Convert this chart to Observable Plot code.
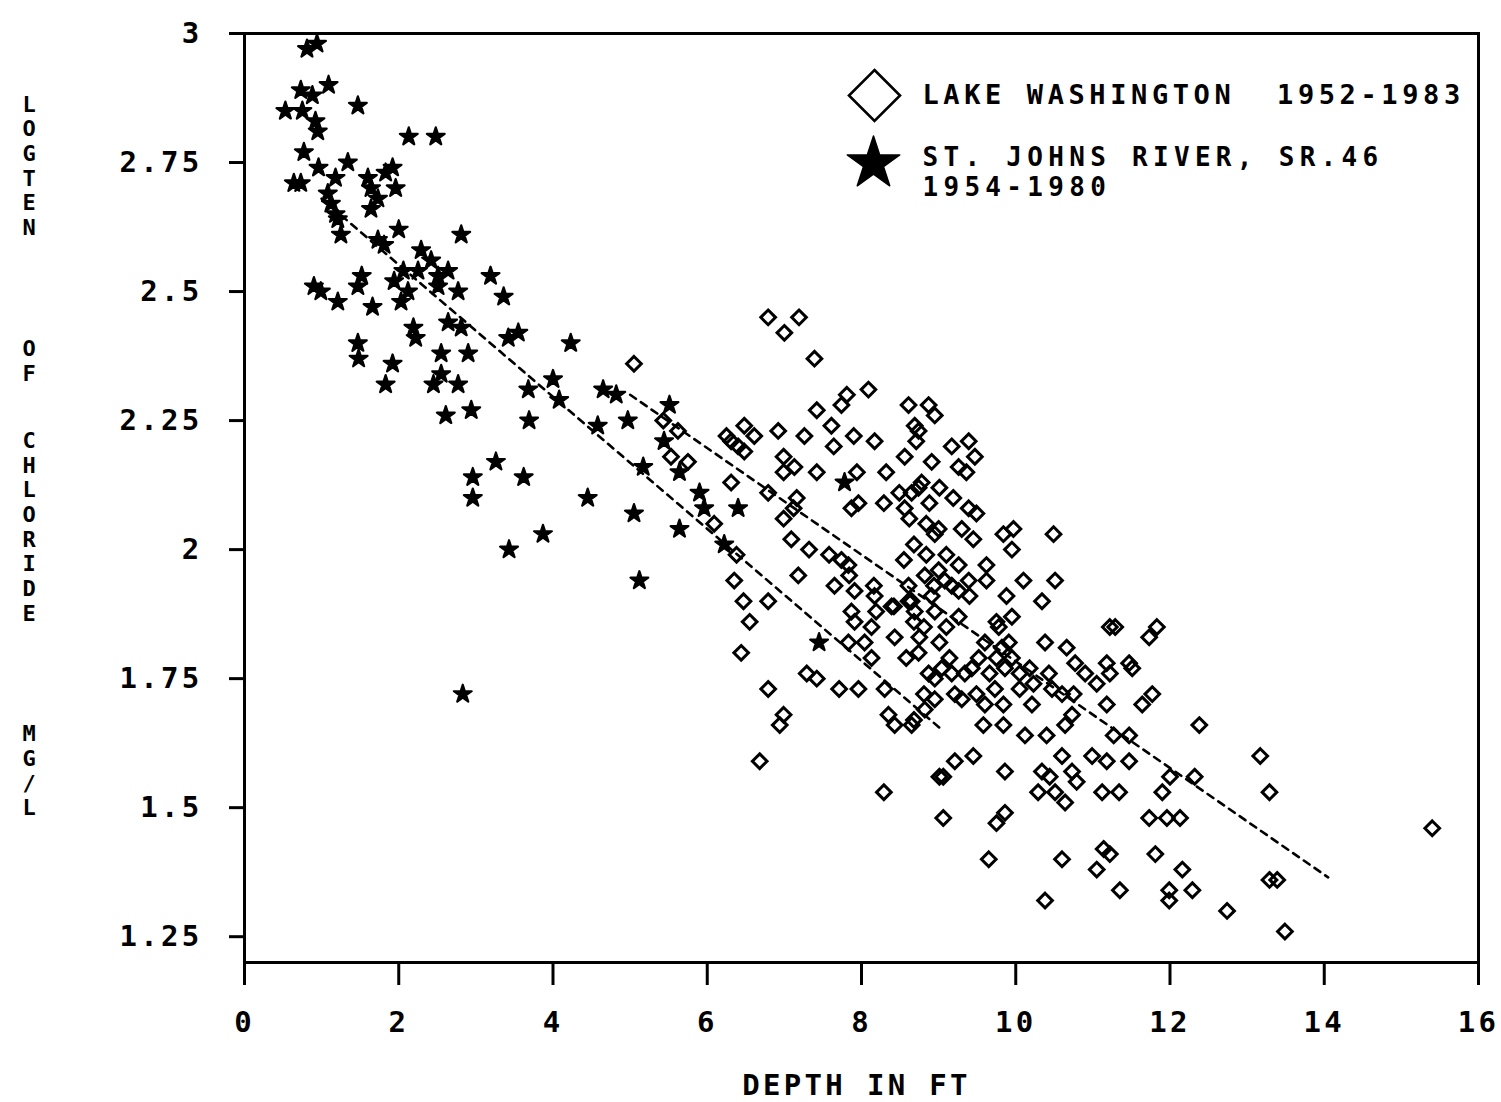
<!DOCTYPE html>
<html><head><meta charset="utf-8">
<script src="https://cdn.jsdelivr.net/npm/d3@7"></script>
<script src="https://cdn.jsdelivr.net/npm/@observablehq/plot@0.6"></script>
<style>
html,body{margin:0;padding:0;background:#fff;overflow:hidden}
svg text{white-space:pre}
</style>
</head><body><div id="chart"></div>
<script>
// St. Johns River, SR.46 (1954-1980): [depth ft, log10 chloride]
const riverPoints = [
[0.94,2.98],[0.81,2.97],[1.09,2.90],[0.73,2.89],[0.88,2.88],[1.47,2.86],[0.53,2.85],[0.75,2.85],
[0.92,2.83],[0.95,2.81],[2.13,2.80],[2.48,2.80],[0.77,2.77],[0.96,2.74],[1.34,2.75],[0.64,2.71],
[0.73,2.71],[1.18,2.72],[1.92,2.74],[1.83,2.73],[1.60,2.72],[1.64,2.70],[1.96,2.70],[1.08,2.69],
[1.12,2.67],[1.73,2.68],[1.64,2.66],[1.18,2.65],[1.21,2.64],[1.25,2.61],[1.73,2.60],[1.81,2.59],
[2.00,2.62],[2.81,2.61],[2.29,2.58],[2.42,2.56],[2.06,2.54],[2.25,2.54],[2.64,2.54],[1.94,2.52],
[2.12,2.50],[2.03,2.48],[2.51,2.53],[2.51,2.51],[2.77,2.50],[3.19,2.53],[3.36,2.49],[0.90,2.51],
[0.99,2.50],[1.21,2.48],[1.66,2.47],[1.47,2.51],[1.52,2.53],[2.19,2.43],[2.64,2.44],[2.81,2.43],
[3.55,2.42],[3.42,2.41],[1.47,2.40],[1.48,2.37],[2.55,2.38],[2.90,2.38],[2.22,2.41],[4.23,2.40],
[1.92,2.36],[1.83,2.32],[2.55,2.34],[2.45,2.32],[2.77,2.32],[2.61,2.26],[2.94,2.27],[3.68,2.31],
[4.00,2.33],[4.08,2.29],[3.69,2.25],[4.65,2.31],[4.82,2.30],[4.58,2.24],[4.97,2.25],[5.51,2.28],
[5.44,2.21],[5.17,2.16],[5.64,2.15],[5.90,2.11],[5.96,2.08],[5.05,2.07],[5.64,2.04],[6.22,2.01],
[6.40,2.08],[7.78,2.13],[5.12,1.94],[3.26,2.17],[2.96,2.14],[2.96,2.10],[3.62,2.14],[4.45,2.10],
[3.87,2.03],[3.43,2.00],[2.83,1.72],[7.45,1.82]
];
// Lake Washington (1952-1983): [depth ft, log10 chloride]
const lakePoints = [
[5.05,2.36],[6.79,2.45],[7.19,2.45],[7.00,2.42],[7.39,2.37],[5.43,2.25],[5.62,2.23],[5.53,2.18],
[5.75,2.17],[6.25,2.22],[6.48,2.24],[6.61,2.22],[6.31,2.21],[6.40,2.20],[6.48,2.19],[6.92,2.23],
[7.26,2.22],[7.61,2.24],[7.64,2.20],[7.42,2.27],[7.81,2.30],[7.74,2.28],[8.09,2.31],[7.90,2.22],
[8.17,2.21],[6.99,2.18],[7.13,2.16],[6.99,2.15],[7.42,2.15],[6.31,2.13],[6.79,2.11],[7.16,2.10],
[7.12,2.08],[6.99,2.06],[6.09,2.05],[7.94,2.15],[8.32,2.15],[8.56,2.18],[8.61,2.28],[8.69,2.24],
[8.71,2.21],[7.96,2.09],[7.87,2.08],[8.29,2.09],[8.49,2.11],[8.56,2.08],[8.65,2.11],[8.62,2.06],
[7.09,2.02],[7.32,2.00],[7.58,1.99],[7.74,1.98],[7.83,1.97],[7.65,1.93],[7.84,1.95],[7.91,1.92],
[8.16,1.93],[8.17,1.91],[8.39,1.89],[8.61,1.90],[8.55,1.98],[8.68,2.01],[7.18,1.95],[6.35,1.94],
[6.47,1.90],[6.79,1.90],[6.38,1.99],[8.87,2.28],[8.95,2.26],[8.74,2.23],[9.17,2.20],[9.39,2.21],
[9.47,2.18],[8.91,2.17],[9.26,2.16],[9.36,2.15],[8.78,2.13],[8.74,2.12],[9.01,2.12],[9.19,2.10],
[8.88,2.09],[9.39,2.08],[9.49,2.07],[8.84,2.05],[8.95,2.03],[9.00,2.04],[9.30,2.04],[9.45,2.02],
[9.84,2.03],[9.97,2.04],[9.95,2.00],[10.49,2.03],[8.84,1.99],[9.10,1.99],[9.26,1.97],[9.62,1.97],
[9.00,1.96],[8.82,1.95],[9.08,1.94],[9.39,1.94],[9.62,1.94],[8.94,1.93],[9.17,1.93],[9.26,1.92],
[10.10,1.94],[10.51,1.94],[9.40,1.91],[9.88,1.91],[10.34,1.90],[8.61,1.93],[8.65,1.90],[8.91,1.91],
[8.42,1.89],[7.87,1.88],[8.19,1.88],[8.69,1.88],[8.95,1.88],[9.10,1.85],[9.26,1.87],[7.91,1.86],
[8.13,1.85],[8.68,1.86],[8.81,1.85],[9.95,1.87],[9.75,1.86],[9.78,1.85],[8.04,1.82],[8.43,1.83],
[8.75,1.83],[9.01,1.82],[8.58,1.79],[8.13,1.79],[9.14,1.79],[9.52,1.79],[9.60,1.82],[9.82,1.81],
[9.91,1.82],[9.75,1.79],[9.95,1.79],[10.38,1.82],[10.66,1.81],[11.22,1.85],[11.29,1.85],[11.73,1.83],
[10.77,1.78],[10.90,1.76],[11.18,1.78],[11.47,1.78],[11.05,1.74],[11.22,1.76],[10.43,1.76],[10.18,1.77],
[10.23,1.74],[10.47,1.73],[10.60,1.72],[10.75,1.72],[10.73,1.68],[10.64,1.66],[11.18,1.70],[11.64,1.70],
[10.40,1.64],[10.12,1.64],[9.84,1.66],[10.21,1.70],[9.84,1.70],[9.60,1.70],[9.73,1.73],[10.05,1.73],
[9.66,1.76],[9.86,1.77],[10.05,1.76],[9.58,1.66],[9.30,1.71],[9.49,1.72],[9.21,1.72],[8.95,1.71],
[8.81,1.72],[9.34,1.76],[9.43,1.77],[9.17,1.76],[8.87,1.76],[8.95,1.75],[9.04,1.77],[8.30,1.73],
[7.96,1.73],[8.35,1.68],[8.43,1.66],[8.68,1.67],[8.82,1.69],[9.45,1.60],[9.21,1.59],[9.01,1.56],
[9.86,1.57],[10.34,1.57],[10.60,1.60],[10.73,1.57],[10.99,1.60],[11.18,1.59],[11.27,1.64],[11.47,1.64],
[11.47,1.59],[6.55,1.86],[6.44,1.80],[7.29,1.76],[7.42,1.75],[6.79,1.73],[7.71,1.73],[6.99,1.68],
[6.94,1.66],[6.68,1.59],[8.29,1.53],[9.06,1.56],[9.06,1.48],[8.74,1.80],[8.65,1.66],[7.83,1.82],
[11.83,1.85],[11.51,1.77],[11.77,1.72],[12.38,1.66],[13.17,1.60],[10.79,1.55],[12.00,1.56],[11.90,1.53],
[12.32,1.56],[13.29,1.53],[11.12,1.53],[11.34,1.53],[10.64,1.51],[10.51,1.53],[11.73,1.48],[11.96,1.48],
[12.13,1.48],[15.40,1.46],[11.22,1.41],[11.14,1.42],[11.81,1.41],[10.60,1.40],[11.05,1.38],[12.16,1.38],
[13.29,1.36],[13.39,1.36],[11.35,1.34],[11.99,1.34],[12.29,1.34],[11.99,1.32],[12.74,1.30],[13.49,1.26],
[10.38,1.32],[9.65,1.40],[9.86,1.49],[9.75,1.47],[10.29,1.53],[10.44,1.56]
];
// fitted trend lines (end points)
const riverFit = [[1.0,2.68],[9.05,1.65]];
const lakeFit = [[5.0,2.30],[14.05,1.365]];

const xTicks = [0,2,4,6,8,10,12,14,16];
const xTickLabels = ["0","2","4","6","8","10","12","14","16"];
const yTicks = [1.25,1.5,1.75,2,2.25,2.5,2.75,3];
const yTickLabels = ["1.25","1.5","1.75","2","2.25","2.5","2.75","3"];
const xTitle = ["DEPTH IN FT"];
const yTitleWords = ["LOGTEN","OF","CHLORIDE","MG/L"];
const yTitleCenters = [165,360,526,770];
const legendLake = ["LAKE WASHINGTON  1952-1983"];
const legendRiver = ["ST. JOHNS RIVER, SR.46\n1954-1980"];

const FONT = "'DejaVu Sans Mono', monospace";
const chart = Plot.plot({
  width: 1501,
  height: 1102,
  marginLeft: 244,
  marginRight: 23,
  marginTop: 33,
  marginBottom: 140,
  style: {fontFamily: FONT, fontSize: "29px", fontWeight: "bold", letterSpacing: "3.3px", background: "#fff", color: "#000"},
  x: {domain: [0,16]},
  y: {domain: [1.2,3]},
  marks: [
    Plot.frame({stroke: "#000", strokeWidth: 3}),
    Plot.axisX(xTicks, {tickSize: 23, tickPadding: 26, strokeWidth: 3, label: null,
      tickFormat: d => xTickLabels[xTicks.indexOf(d)]}),
    Plot.axisY(yTicks, {tickSize: 15, tickPadding: 27, strokeWidth: 3, label: null,
      tickFormat: d => yTickLabels[yTicks.indexOf(d)]}),
    Plot.line(riverFit, {x: d => d[0], y: d => d[1], stroke: "#000", strokeWidth: 2.6, strokeDasharray: "7,6"}),
    Plot.line(lakeFit, {x: d => d[0], y: d => d[1], stroke: "#000", strokeWidth: 2.6, strokeDasharray: "7,6"}),
    Plot.dot(lakePoints, {x: d => d[0], y: d => d[1], symbol: "diamond2", r: 6.6, fill: "none", stroke: "#000", strokeWidth: 3}),
    Plot.dot(riverPoints, {x: d => d[0], y: d => d[1], symbol: "star", r: 5.6, fill: "#000", stroke: "#000", strokeWidth: 2.2, strokeLinejoin: "round"}),
    // legend
    Plot.dot([0], {frameAnchor: "top-left", dx: 630, dy: 62, symbol: "diamond2", r: 23, fill: "none", stroke: "#000", strokeWidth: 2.6}),
    Plot.dot([0], {frameAnchor: "top-left", dx: 629, dy: 130, symbol: "star", r: 16.5, fill: "#000", stroke: "#000", strokeWidth: 1.5, strokeLinejoin: "round"}),
    Plot.text(legendLake, {frameAnchor: "top-left", dx: 678, dy: 62, text: d => d, textAnchor: "start", lineAnchor: "middle",
      fontSize: 27}),
    Plot.text(legendRiver, {frameAnchor: "top-left", dx: 678, dy: 138, text: d => d, textAnchor: "start", lineAnchor: "middle",
      fontSize: 26, lineHeight: 1.16}),
    // axis titles
    Plot.text(xTitle, {frameAnchor: "bottom", dx: -5, dy: 123, text: d => d, lineAnchor: "middle"}),
    ...yTitleWords.map((w, i) => Plot.text([w], {frameAnchor: "top-left", dx: -222, dy: yTitleCenters[i] - 33,
      text: d => d.split("").join("\n"), lineAnchor: "middle", fontSize: 22, lineHeight: 1.12}))
  ]
});
// widen letter spacing of the smaller legend texts so their lengths match the reference
chart.querySelectorAll("[font-size]").forEach(el => {
  const fs = el.getAttribute("font-size");
  if (fs === "26") el.style.letterSpacing = "5.3px";
  if (fs === "27") el.style.letterSpacing = "4.6px";
});
document.getElementById("chart").appendChild(chart);
</script>
</body></html>
